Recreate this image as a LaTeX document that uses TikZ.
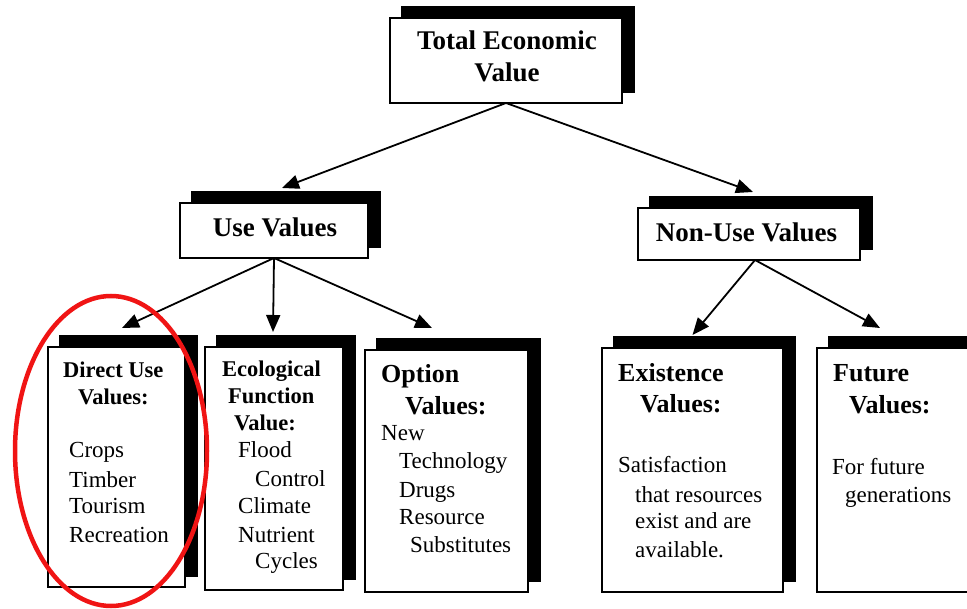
\documentclass[tikz,border=0pt]{standalone}
\usepackage{fontspec}
\setmainfont{Liberation Serif}
\usetikzlibrary{arrows.meta,shadows}
\definecolor{ovalred}{RGB}{240,20,20}
\begin{document}
\begin{tikzpicture}[x=1pt,y=-1pt,
  box/.style={draw=black, fill=white, line width=1.4pt, inner sep=0pt, outer sep=0pt,
    copy shadow={shadow xshift=12pt, shadow yshift=11pt, fill=black, draw=black}},
  arr/.style={line width=1.8pt, -{Triangle[length=17pt,width=14pt]}},
  hd/.style={anchor=base, inner sep=0pt, font=\fontsize{27}{30}\selectfont\bfseries},
  bh/.style={anchor=base west, inner sep=0pt, font=\fontsize{26}{30}\selectfont\bfseries},
  bs/.style={anchor=base west, inner sep=0pt, font=\fontsize{22.5}{26}\selectfont\bfseries},
  tx/.style={anchor=base west, inner sep=0pt, font=\fontsize{23}{27}\selectfont}]
\clip (0,0) rectangle (967,609);
\fill[white] (0,0) rectangle (967,609);

% boxes
\node[box, minimum width=232pt, minimum height=85pt] (top) at (506,60.5) {};
\node[box, minimum width=188pt, minimum height=55pt] (use) at (274,230.5) {};
\node[box, minimum width=222pt, minimum height=52pt] (nonuse) at (749,234) {};
\node[box, minimum width=137pt, minimum height=240pt] (direct) at (116.5,467) {};
\node[box, minimum width=138pt, minimum height=243pt] (eco) at (274,468.5) {};
\node[box, minimum width=163pt, minimum height=242pt] (option) at (446.5,471) {};
\node[box, minimum width=181pt, minimum height=244pt] (exist) at (692.5,470) {};
\node[box, minimum width=170pt, minimum height=244pt] (future) at (902,470) {};

% headings
\node[hd] (t1) at (507,50) {Total Economic};
\node[hd] (t2) at (507,82) {Value};
\node[hd] (u1) at (275,237) {Use Values};
\node[hd] (n1) at (746.5,242) {Non-Use Values};

% direct use
\node[bs] (d1) at (63,378) {Direct Use};
\node[bs] (d2) at (78,405) {Values:};
\node[tx] (d3) at (69,458) {Crops};
\node[tx] (d4) at (69,487) {Timber};
\node[tx] (d5) at (69,514) {Tourism};
\node[tx] (d6) at (69,542) {Recreation};

% ecological
\node[bs] (e1) at (222,377) {Ecological};
\node[bs] (e2) at (228,404) {Function};
\node[bs] (e3) at (234,431) {Value:};
\node[tx] (e4) at (238,457) {Flood};
\node[tx] (e5) at (255,486) {Control};
\node[tx] (e6) at (238,513) {Climate};
\node[tx] (e7) at (238,542) {Nutrient};
\node[tx] (e8) at (255,568) {Cycles};

% option
\node[bh] (o1) at (381,383) {Option};
\node[bh] (o2) at (405,415) {Values:};
\node[tx] (o3) at (381,441) {New};
\node[tx] (o4) at (399,468) {Technology};
\node[tx] (o5) at (399,497) {Drugs};
\node[tx] (o6) at (399,524) {Resource};
\node[tx] (o7) at (410,552) {Substitutes};

% existence
\node[bh] (x1) at (618,382) {Existence};
\node[bh] (x2) at (640,413) {Values:};
\node[tx] (x3) at (618,473) {Satisfaction};
\node[tx] (x4) at (635,502) {that resources};
\node[tx] (x5) at (635,529) {exist and are};
\node[tx] (x6) at (635,557) {available.};

% future
\node[bh] (f1) at (833,382) {Future};
\node[bh] (f2) at (849,414) {Values:};
\node[tx] (f3) at (832,475) {For future};
\node[tx] (f4) at (845,502) {generations};

% connectors
\draw[arr] (top.south) -- ([xshift=8pt,yshift=15pt]use.north);
\draw[arr] (top.south) -- ([xshift=4pt,yshift=16pt]nonuse.north);
\draw[arr] (use.south) -- ([xshift=5.5pt,yshift=19pt]direct.north);
\draw[arr] (use.south) -- ([xshift=-1pt,yshift=15pt]eco.north);
\draw[arr] (use.south) -- ([xshift=-14.5pt,yshift=22pt]option.north);
\draw[arr] ([xshift=6pt]nonuse.south) -- ([yshift=13pt]exist.north);
\draw[arr] ([xshift=6pt]nonuse.south) -- ([xshift=63pt,yshift=20pt]future.north west);

% red oval
\draw[ovalred, line width=4.5pt] (111,451) ellipse [x radius=96, y radius=155];
\end{tikzpicture}
\end{document}
